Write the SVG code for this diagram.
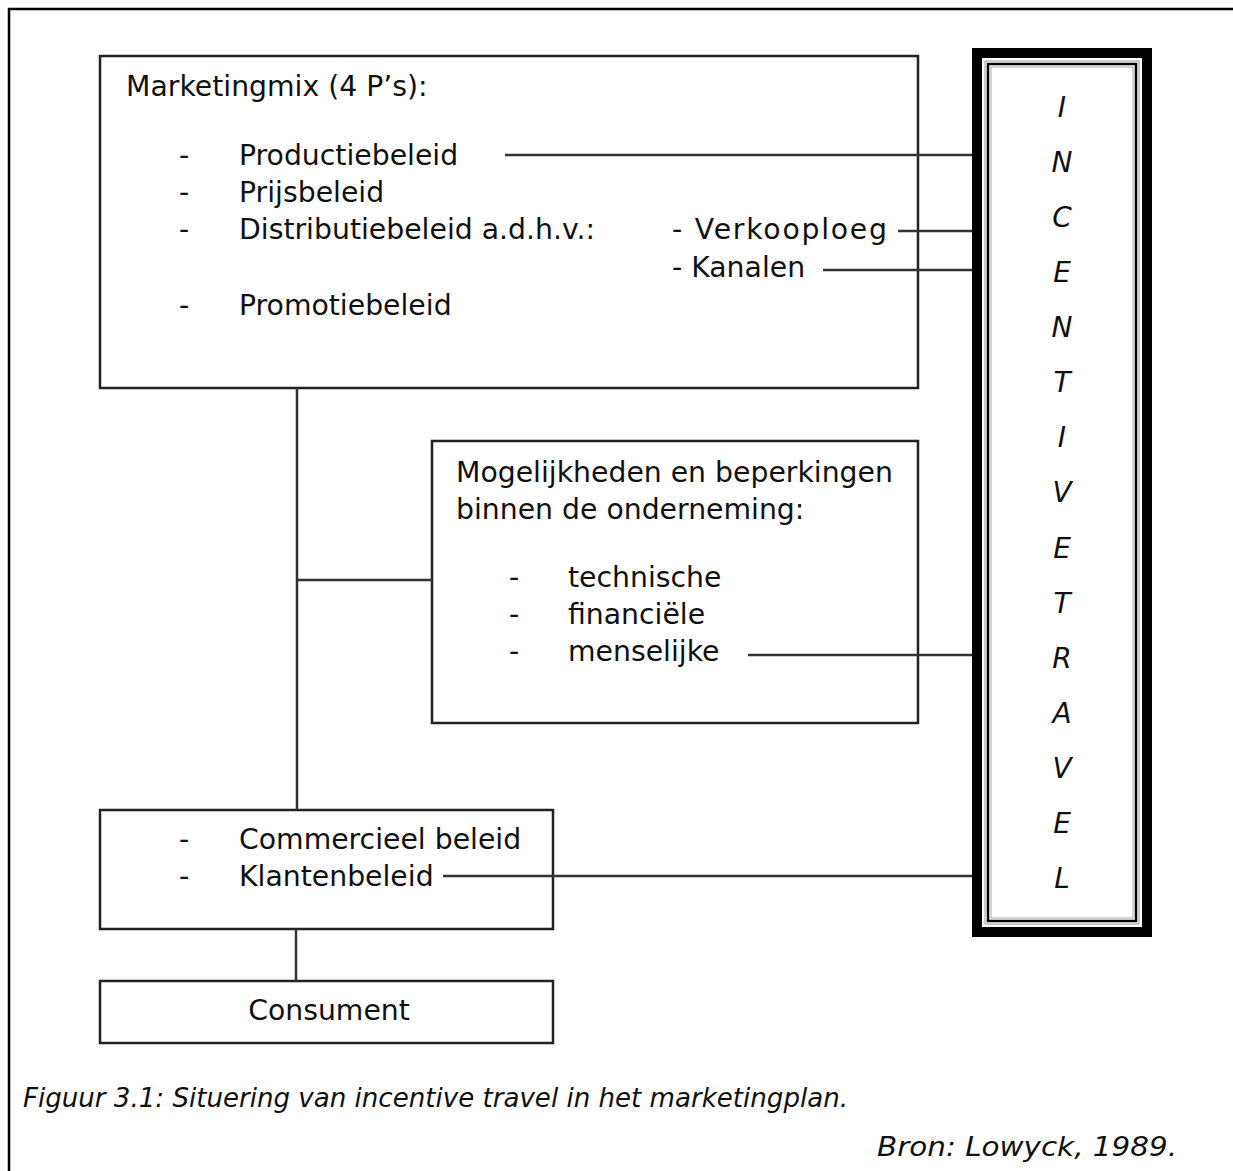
<svg xmlns="http://www.w3.org/2000/svg" width="1233" height="1171" viewBox="0 0 1233 1171">
<style>
.t{font-family:"DejaVu Sans","Liberation Sans",sans-serif;font-size:28.3px;fill:#111}
.it{font-family:"DejaVu Sans","Liberation Sans",sans-serif;font-style:italic;fill:#111}
.box{fill:#fff;stroke:#222;stroke-width:2.5}
.ln{fill:none;stroke:#333;stroke-width:2.5}
</style>
<rect width="1233" height="1171" fill="#fff"/>
<path d="M9,1171 V9 H1233" fill="none" stroke="#000" stroke-width="2.5"/>
<g id="marketingmix">
<rect class="box" x="100" y="56" width="818" height="332"/>
<text class="t" x="126" y="96">Marketingmix (4 P’s):</text>
<text class="t" x="179" y="165">-</text><text class="t" x="239" y="165">Productiebeleid</text>
<text class="t" x="179" y="202">-</text><text class="t" x="239" y="202">Prijsbeleid</text>
<text class="t" x="179" y="239">-</text><text class="t" x="239" y="239">Distributiebeleid a.d.h.v.:</text>
<text class="t" x="672" y="239" textLength="215" lengthAdjust="spacing">- Verkooploeg</text>
<text class="t" x="672" y="277">- Kanalen</text>
<text class="t" x="179" y="315">-</text><text class="t" x="239" y="315">Promotiebeleid</text>
</g>
<g id="mogelijkheden">
<rect class="box" x="432" y="441" width="486" height="282"/>
<text class="t" x="456" y="482">Mogelijkheden en beperkingen</text>
<text class="t" x="456" y="519">binnen de onderneming:</text>
<text class="t" x="509" y="587">-</text><text class="t" x="568" y="587">technische</text>
<text class="t" x="509" y="624">-</text><text class="t" x="568" y="624">financiële</text>
<text class="t" x="509" y="661">-</text><text class="t" x="568" y="661">menselijke</text>
</g>
<g id="commercieel">
<rect class="box" x="100" y="810" width="453" height="119"/>
<text class="t" x="179" y="849">-</text><text class="t" x="239" y="849">Commercieel beleid</text>
<text class="t" x="179" y="886">-</text><text class="t" x="239" y="886">Klantenbeleid</text>
</g>
<g id="consument">
<rect class="box" x="100" y="981" width="453" height="62"/>
<text class="t" x="329" y="1020" text-anchor="middle">Consument</text>
</g>
<g id="connectors">
<line class="ln" x1="297" y1="388" x2="297" y2="810"/>
<line class="ln" x1="297" y1="580" x2="432" y2="580"/>
<line class="ln" x1="296" y1="929" x2="296" y2="981"/>
<line class="ln" x1="505" y1="155" x2="973" y2="155"/>
<line class="ln" x1="898" y1="231" x2="973" y2="231"/>
<line class="ln" x1="823" y1="270" x2="973" y2="270"/>
<line class="ln" x1="748" y1="655" x2="973" y2="655"/>
<line class="ln" x1="443" y1="876" x2="973" y2="876"/>
</g>
<g id="incentive">
<rect x="977" y="53" width="170" height="879" fill="#fff" stroke="#000" stroke-width="10"/>
<rect x="985" y="61" width="154" height="863" fill="none" stroke="#999" stroke-width="1"/>
<rect x="988" y="64" width="148" height="857" fill="none" stroke="#000" stroke-width="2.5"/>
<rect x="991" y="67" width="142" height="851" fill="none" stroke="#aaa" stroke-width="1"/>
<g class="it" font-size="28" text-anchor="middle">
<text x="1062" y="117">I</text>
<text x="1062" y="172">N</text>
<text x="1062" y="227">C</text>
<text x="1062" y="282">E</text>
<text x="1062" y="337">N</text>
<text x="1062" y="392">T</text>
<text x="1062" y="447">I</text>
<text x="1062" y="502">V</text>
<text x="1062" y="558">E</text>
<text x="1062" y="613">T</text>
<text x="1062" y="668">R</text>
<text x="1062" y="723">A</text>
<text x="1062" y="778">V</text>
<text x="1062" y="833">E</text>
<text x="1062" y="888">L</text>
</g>
</g>
<text class="it" font-size="26" x="23" y="1107" textLength="825" lengthAdjust="spacingAndGlyphs">Figuur 3.1: Situering van incentive travel in het marketingplan.</text>
<text class="it" font-size="26" x="877" y="1156" textLength="300" lengthAdjust="spacingAndGlyphs">Bron: Lowyck, 1989.</text>
</svg>
